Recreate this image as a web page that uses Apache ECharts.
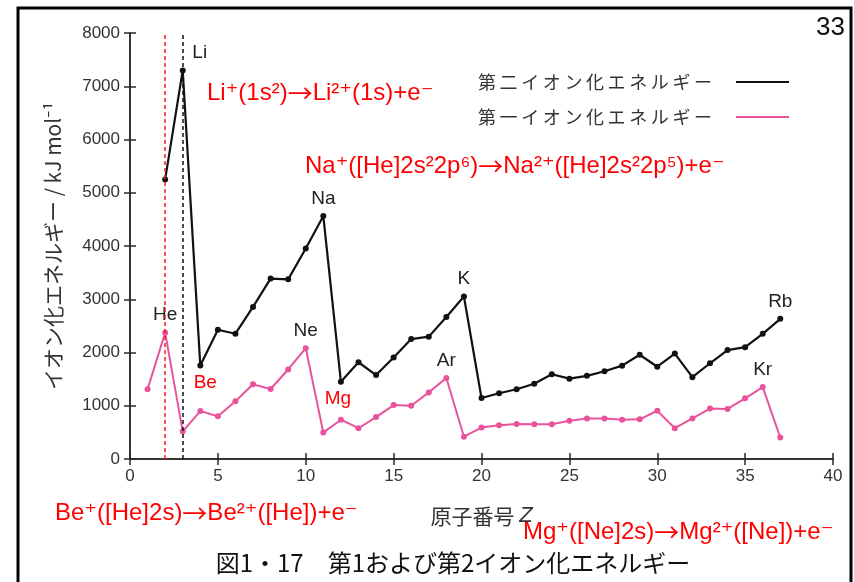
<!DOCTYPE html>
<html>
<head>
<meta charset="utf-8">
<script src="https://cdn.jsdelivr.net/npm/echarts@6/dist/echarts.min.js"></script>
<style>
html,body{margin:0;padding:0;background:#fff;}
#chart{width:854px;height:582px;}
</style>
</head>
<body>
<div id="chart"></div>
<script>
// ---- data ----
const firstZ = [1,2,3,4,5,6,7,8,9,10,11,12,13,14,15,16,17,18,19,20,21,22,23,24,25,26,27,28,29,30,31,32,33,34,35,36,37];
const firstIE = [1312,2372,520,900,801,1086,1402,1314,1681,2081,496,738,578,787,1012,1000,1251,1521,419,590,633,659,651,653,717,762,760,737,745,906,579,762,947,941,1140,1351,403];
const secondZ = [2,3,4,5,6,7,8,9,10,11,12,13,14,15,16,17,18,19,20,21,22,23,24,25,26,27,28,29,30,31,32,33,34,35,36,37];
const secondIE = [5251,7298,1757,2427,2353,2856,3388,3374,3952,4562,1451,1817,1577,1907,2252,2298,2666,3052,1145,1235,1310,1414,1591,1509,1562,1648,1753,1958,1733,1979,1537,1798,2045,2100,2350,2633];
const seriesNames = ['第二イオン化エネルギー','第一イオン化エネルギー'];
const secondLabels = {3:'Li',11:'Na',19:'K',37:'Rb',4:'Be',12:'Mg'};
const firstLabels = {2:'He',10:'Ne',18:'Ar',36:'Kr'};
const dashedZ = [2,3];
const xTicks = {min:0,max:40,interval:5};
const yTicks = {min:0,max:8000,interval:1000};
// annotation parts: [left side, right side] around the arrow
const annotations = [
  ['Li⁺(1s²)','Li²⁺(1s)+e⁻'],
  ['Na⁺([He]2s²2p⁶)','Na²⁺([He]2s²2p⁵)+e⁻'],
  ['Be⁺([He]2s)','Be²⁺([He])+e⁻'],
  ['Mg⁺([Ne]2s)','Mg²⁺([Ne])+e⁻']
];
const caption = '図1・17　第1および第2イオン化エネルギー';
const pageNo = '33';

// ---- styles ----
const PINK = '#e8539c';
const RED = '#ff0000';
const AX = '#2a2a2a';
const LAT = '"Liberation Sans", Arial, "DejaVu Sans", sans-serif';
const CJK = '"Noto Sans CJK JP", "Noto Sans", sans-serif';
const labelStyle = {
  Li:{position:'top',offset:[17,0]},
  Na:{position:'top',offset:[0,0]},
  K:{position:'top',offset:[0,0]},
  Rb:{position:'top',offset:[0,0]},
  Be:{position:'bottom',offset:[5,0],color:RED},
  Mg:{position:'bottom',offset:[-3,0],color:RED},
  He:{position:'top',offset:[0,0]},
  Ne:{position:'top',offset:[0,0]},
  Ar:{position:'top',offset:[0,0]},
  Kr:{position:'top',offset:[0,0]}
};
function buildData(zs, vals, labels){
  return zs.map((z,i)=>{
    const t = labels[z];
    if(!t) return [z, vals[i]];
    const st = labelStyle[t];
    return {value:[z, vals[i]], label:{show:true, formatter:t, position:st.position, offset:st.offset,
      color:st.color||'#222', fontSize:19, fontFamily:LAT, distance:5}};
  });
}
const annRich = {
  t:{fontSize:24, fontFamily:LAT, fill:RED},
  r:{fontSize:25, fontFamily:CJK, fill:RED}
};
function ann(parts, x, y){
  return {type:'text', x:x, y:y, style:{text:'{t|'+parts[0]+'}{r|→}{t|'+parts[1]+'}', rich:annRich, fill:RED, verticalAlign:'middle'}};
}

const chart = echarts.init(document.getElementById('chart'));
const axisLine = {show:true, lineStyle:{color:AX,width:1.5}};
const tick = {show:true, inside:true, length:6, lineStyle:{color:AX,width:1.5}};
chart.setOption({
  backgroundColor:'#fff',
  animation:false,
  grid:{left:130,right:21,top:33,bottom:123,containLabel:false},
  legend:{
    orient:'vertical', right:60, top:68, align:'right', icon:'rect',
    itemWidth:53, itemHeight:2, itemGap:17,
    formatter: n => n.split('').join('\u2009'),
    textStyle:{fontSize:18, fontFamily:CJK, color:'#333', padding:[0,19,0,0]},
    data:seriesNames
  },
  xAxis:[
    {type:'value', position:'bottom', min:xTicks.min, max:xTicks.max, interval:xTicks.interval,
     axisLine:axisLine, axisTick:tick, splitLine:{show:false},
     axisLabel:{fontSize:17, color:'#333', fontFamily:LAT, margin:9},
     name:'{a|原子番号 }{z|Z}', nameLocation:'middle', nameGap:46,
     nameTextStyle:{rich:{a:{fontSize:21,fontFamily:CJK,color:'#333'}, z:{fontSize:22,fontFamily:LAT,fontStyle:'italic',color:'#333'}}}},
    {type:'value', position:'top', min:xTicks.min, max:xTicks.max, interval:xTicks.interval,
     axisLine:axisLine, axisTick:tick, axisLabel:{show:false}, splitLine:{show:false}}
  ],
  yAxis:[
    {type:'value', position:'left', min:yTicks.min, max:yTicks.max, interval:yTicks.interval,
     axisLine:axisLine, axisTick:tick, splitLine:{show:false},
     axisLabel:{fontSize:17, color:'#333', fontFamily:LAT, margin:10, formatter: v => String(v)},
     name:'イオン化エネルギー / kJ mol⁻¹', nameLocation:'middle', nameGap:66, nameRotate:90,
     nameTextStyle:{fontSize:21, fontFamily:CJK, color:'#333'}},
    {type:'value', position:'right', min:yTicks.min, max:yTicks.max, interval:yTicks.interval,
     axisLine:axisLine, axisTick:tick, axisLabel:{show:false}, splitLine:{show:false}}
  ],
  series:[
    {name:seriesNames[0], type:'line', data:buildData(secondZ, secondIE, secondLabels),
     symbol:'circle', symbolSize:6, color:'#111',
     lineStyle:{color:'#111', width:2.2}, itemStyle:{color:'#111'}, z:3,
     markLine:{symbol:'none', silent:true, label:{show:false},
       lineStyle:{type:[4,3], width:1.5},
       data:[{xAxis:dashedZ[0], lineStyle:{color:'#ff1a1a', type:[4,3], width:1.5}},
             {xAxis:dashedZ[1], lineStyle:{color:'#111', type:[4,3], width:1.5}}]}},
    {name:seriesNames[1], type:'line', data:buildData(firstZ, firstIE, firstLabels),
     symbol:'circle', symbolSize:6, color:PINK,
     lineStyle:{color:PINK, width:2}, itemStyle:{color:PINK}, z:2}
  ],
  graphic:[
    {type:'rect', shape:{x:18,y:8,width:833,height:620}, style:{fill:'none',stroke:'#000',lineWidth:3}, silent:true},
    {type:'text', x:845, y:28, style:{text:pageNo, fontSize:26, fontFamily:LAT, fill:'#111', align:'right', verticalAlign:'middle'}},
    ann(annotations[0], 207, 93),
    ann(annotations[1], 305, 166),
    ann(annotations[2], 55, 513),
    ann(annotations[3], 523, 532),
    {type:'text', x:453, y:563, style:{text:caption, fontSize:24, fontFamily:CJK, fill:'#111', align:'center', verticalAlign:'middle'}}
  ]
});
</script>
</body>
</html>
